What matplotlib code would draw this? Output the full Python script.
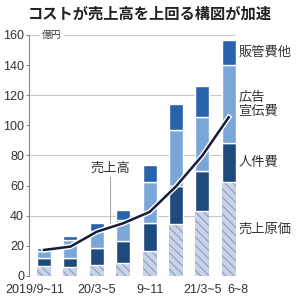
import numpy as np
import matplotlib
matplotlib.use("Agg")
import matplotlib.pyplot as plt
import matplotlib.patheffects as pe
from matplotlib import font_manager
from matplotlib.transforms import ScaledTranslation

installed = {f.name for f in font_manager.fontManager.ttflist}
num_font = 'Liberation Sans Narrow' if 'Liberation Sans Narrow' in installed else 'Liberation Sans'
num_size = 10 if num_font == 'Liberation Sans Narrow' else 9
plt.rcParams['font.family'] = [num_font, 'Noto Sans CJK JP', 'DejaVu Sans']
plt.rcParams['hatch.linewidth'] = 0.8

# data (億円)
periods = ["2019/9~11", "", "20/3~5", "", "9~11", "", "21/3~5", "6~8"]
cost_of_sales = [6.6, 5.8, 7.3, 8.8, 16.5, 34.5, 43.0, 62.3]   # 売上原価
personnel = [5.4, 5.9, 11.1, 14.4, 19.0, 25.5, 26.5, 25.7]     # 人件費
advertising = [4.6, 12.2, 11.5, 14.0, 27.0, 37.0, 36.0, 52.0]  # 広告宣伝費
sga_other = [2.2, 2.9, 5.5, 6.6, 11.2, 17.2, 20.3, 16.7]       # 販管費他
sales = [17.3, 19.5, 29.4, 35.0, 42.5, 59.5, 80.0, 105.4]      # 売上高

seg_names = ["売上原価", "人件費", "広告\n宣伝費", "販管費他"]
seg_colors = ["#c9d3e8", "#1f4a7e", "#7ba6d8", "#2a63ad"]
hatch_color = "#8c9dc2"
txt = "#333333"
jp = ['Noto Sans CJK JP', 'DejaVu Sans']

fig = plt.figure(figsize=(2.99, 2.99), dpi=100)
ax = fig.add_axes([0.097, 0.077, 0.692, 0.806])

x = np.arange(len(sales))
w = 0.53
bottom = np.zeros(len(x))
segs = [cost_of_sales, personnel, advertising, sga_other]
for i, vals in enumerate(segs):
    vals = np.array(vals)
    if i == 0:
        ax.bar(x, vals, w, bottom=bottom, color=seg_colors[0], edgecolor=hatch_color,
               linewidth=0, hatch='\\\\\\\\', zorder=2)
    else:
        ax.bar(x, vals, w, bottom=bottom, color=seg_colors[i], edgecolor='white',
               linewidth=1.0, zorder=2)
    # label next to last bar
    ax.text(7.37, bottom[-1] + vals[-1] / 2, seg_names[i], ha='left', va='center',
            fontsize=9.5, color=txt, family=jp, linespacing=1.05)
    bottom += vals

ax.plot(x, sales, color='#141c3a', lw=1.8, zorder=4,
        path_effects=[pe.Stroke(linewidth=3.8, foreground='white'), pe.Normal()])

# 売上高 callout
ax.plot([2.5, 2.5], [66, 35], color='#aaaaaa', lw=0.8, zorder=3)
ax.text(2.5, 67, "売上高", ha='center', va='bottom', fontsize=9.5, color=txt, family=jp)

ax.set_xlim(-0.57, 7.27)
ax.set_ylim(0, 160)
ax.set_yticks(np.arange(0, 161, 20))
for g in [40, 80, 120, 160]:
    ax.axhline(g, color='#c8c8c8', lw=0.8, zorder=1)
ax.axhline(0, color='#999999', lw=0.8, zorder=1)

for s in ['top', 'right', 'bottom']:
    ax.spines[s].set_visible(False)
ax.spines['left'].set_color('#888888')
ax.spines['left'].set_linewidth(0.8)
ax.tick_params(axis='y', length=2.5, width=0.8, color='#888888', labelsize=num_size,
               labelcolor=txt, pad=1)

ax.set_xticks(x)
ax.set_xticklabels(periods)
ax.tick_params(axis='x', length=0, labelsize=num_size, labelcolor=txt, pad=6)
labels = ax.get_xticklabels()
labels[0].set_transform(labels[0].get_transform() + ScaledTranslation(-0.09, 0, fig.dpi_scale_trans))
labels[7].set_transform(labels[7].get_transform() + ScaledTranslation(0.09, 0, fig.dpi_scale_trans))

ax.text(0.3, 160, "億円", ha='center', va='center', fontsize=7, color=txt, family=jp,
        bbox=dict(facecolor='white', edgecolor='none', pad=1.5), zorder=5)

fig.text(0.5, 0.955, "コストが売上高を上回る構図が加速", ha='center', va='center',
         fontsize=11, fontweight='bold', color='#222222', family=jp)

fig.savefig("out.png", dpi=100)
